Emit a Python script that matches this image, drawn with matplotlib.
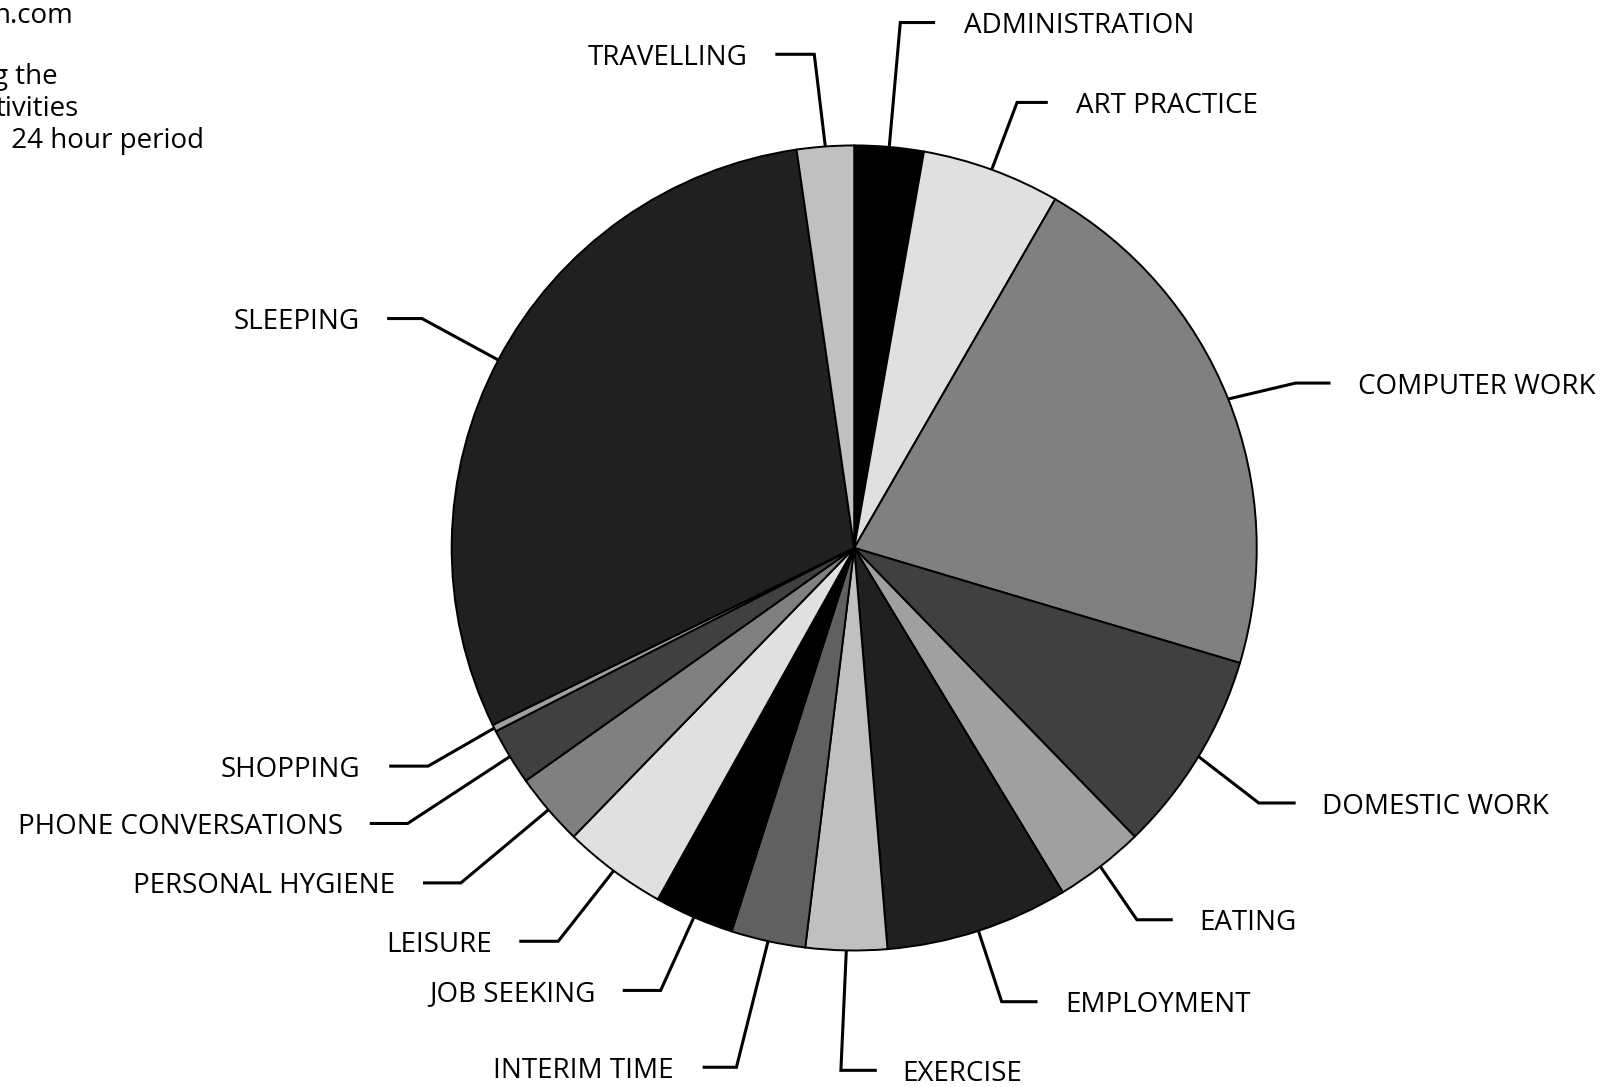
import matplotlib
matplotlib.use('Agg')
import matplotlib.pyplot as plt
import numpy as np

# ---- data (minutes in a 24 hour day) ----
categories = ["ADMINISTRATION", "ART PRACTICE", "COMPUTER WORK", "DOMESTIC WORK", "EATING",
              "EMPLOYMENT", "EXERCISE", "INTERIM TIME", "JOB SEEKING", "LEISURE",
              "PERSONAL HYGIENE", "PHONE CONVERSATIONS", "SHOPPING", "SLEEPING", "TRAVELLING"]
minutes = [40, 80, 307, 117, 52, 106, 47, 43, 46, 60, 42, 33, 4, 432, 33]
colors = ["#000000", "#e0e0e0", "#808080", "#404040", "#a0a0a0", "#202020", "#c0c0c0",
          "#606060", "#000000", "#e0e0e0", "#808080", "#404040", "#a0a0a0", "#202020", "#c0c0c0"]
header_lines = ["n.com", "", "g the", "tivities", " 24 hour period"]

# ---- layout (reference pixel coords, 1568-wide preview) ----
S = 1606 / 1568
W, H = 1606, 1087
# elbow x, elbow y, end of horizontal, text x, side
leader = {
    "ADMINISTRATION": (879, 22, 913, 941, 'left'),
    "ART PRACTICE": (993, 100, 1023, 1051, 'left'),
    "COMPUTER WORK": (1265, 374, 1299, 1326, 'left'),
    "DOMESTIC WORK": (1229, 784, 1265, 1291, 'left'),
    "EATING": (1110, 898, 1145, 1171, 'left'),
    "EMPLOYMENT": (978, 978, 1013, 1040, 'left'),
    "EXERCISE": (821, 1045, 856, 881, 'left'),
    "INTERIM TIME": (719, 1042, 686, 658, 'right'),
    "JOB SEEKING": (645, 967, 608, 581, 'right'),
    "LEISURE": (545, 919, 507, 480, 'right'),
    "PERSONAL HYGIENE": (450, 862, 413, 386, 'right'),
    "PHONE CONVERSATIONS": (398, 804, 361, 335, 'right'),
    "SHOPPING": (418, 748, 380, 352, 'right'),
    "SLEEPING": (412, 311, 378, 351, 'right'),
    "TRAVELLING": (795, 53, 757, 730, 'right'),
}

def P(x, y):
    return x * S, H - y * S

FONT = 'Open Sans'
FS = 20
fig = plt.figure(figsize=(W / 100, H / 100), dpi=100)
ax = fig.add_axes([0, 0, 1, 1])
cx, cy = P(834, 535)
R = 393 * S
ax.pie(minutes, colors=colors, startangle=90, counterclock=False, center=(cx, cy), radius=R,
       wedgeprops=dict(edgecolor='black', linewidth=1.4))
ax.set_xlim(0, W)
ax.set_ylim(0, H)
ax.set_aspect('equal')
ax.axis('off')

total = sum(minutes)
cum = np.cumsum(minutes)
for name, v, c in zip(categories, minutes, cum):
    th = np.deg2rad(360 * (c - v / 2) / total)
    sx, sy = cx + R * np.sin(th), cy + R * np.cos(th)
    ex, ey, hx, tx, side = leader[name]
    exp, eyp = P(ex, ey)
    hxp, _ = P(hx, ey)
    txp, _ = P(tx, ey)
    ax.plot([sx, exp, hxp], [sy, eyp, eyp], color='black', lw=2.2, solid_capstyle='butt',
            solid_joinstyle='miter')
    ax.text(txp, eyp, name, ha=side, va='center_baseline', fontsize=FS, family=FONT,
            color='black')

# cropped header text at top-left
hy = [12, 42, 72, 103, 134]
hx_right = [72, 0, 56, 77, 199]
for t, y, xr in zip(header_lines, hy, hx_right):
    if t:
        xx, yy = P(xr, y)
        ax.text(xx, yy, t, ha='right', va='center_baseline', fontsize=FS, family=FONT,
                color='black')

fig.savefig('out.png', dpi=100)
